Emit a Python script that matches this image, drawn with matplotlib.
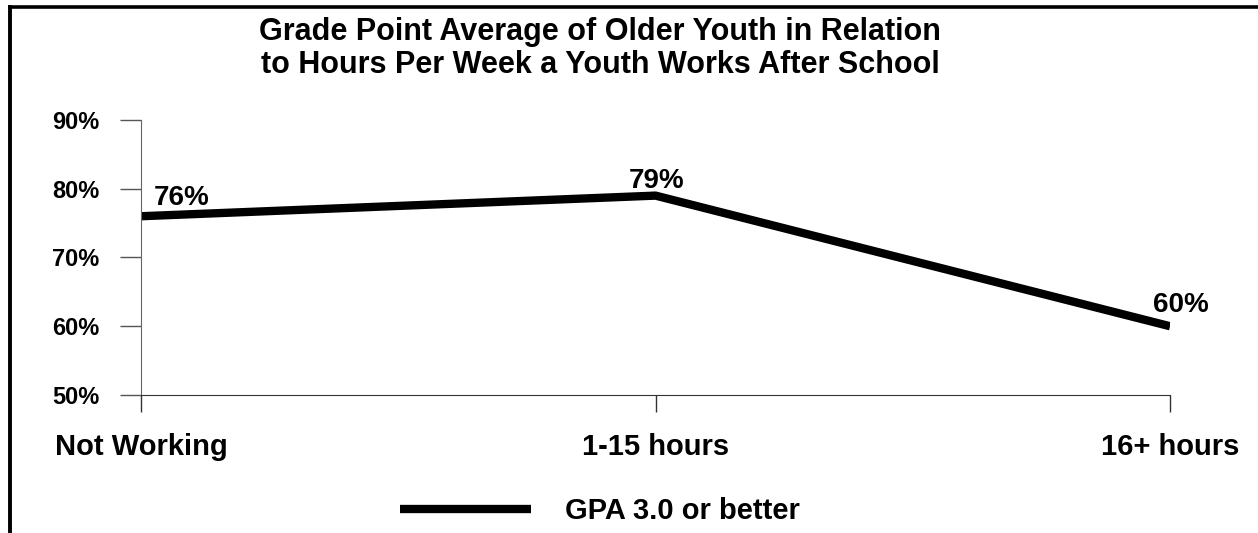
import numpy as np
import matplotlib
matplotlib.use("Agg")
import matplotlib.pyplot as plt
from matplotlib.lines import Line2D

categories = ['Not Working', '1-15 hours', '16+ hours']
gpa_values = [76, 79, 60]
point_labels = ['76%', '79%', '60%']
series_name = 'GPA 3.0 or better'
y_ticks = [50, 60, 70, 80, 90]

plt.rcParams['font.family'] = ['Liberation Sans', 'DejaVu Sans']

fig = plt.figure(figsize=(12.58, 5.33), dpi=100)
ax = fig.add_axes([0.1121, 0.2589, 0.8180, 0.5160])

x = np.arange(len(categories))
line, = ax.plot(x, gpa_values, color='black', linewidth=6, solid_capstyle='butt')

ax.set_xlim(0, len(categories) - 1)
ax.set_ylim(50, 90)
ax.set_xticks(x)
ax.set_xticklabels(categories, fontsize=21, fontweight='bold')
ax.set_yticks(y_ticks)
ax.set_yticklabels([f'{v}%' for v in y_ticks], fontsize=17, fontweight='bold')
ax.tick_params(axis='y', direction='out', length=15, width=1, color='#555555', pad=15)
ax.tick_params(axis='x', direction='out', length=12, width=1, color='#333333', pad=15)

for s in ['top', 'right']:
    ax.spines[s].set_visible(False)
ax.spines['left'].set_color('#666666')
ax.spines['bottom'].set_color('#333333')

# (dx, dy) in points from each data point to the label's baseline centre
offsets = [(29, 8), (1, 5.5), (8, 10)]
for xi, yi, lab, (dx, dy) in zip(x, gpa_values, point_labels, offsets):
    ax.annotate(lab, (xi, yi), xytext=(dx, dy), textcoords='offset points',
                ha='center', va='baseline', fontsize=20, fontweight='bold')

fig.text(0.477, 0.968, 'Grade Point Average of Older Youth in Relation\nto Hours Per Week a Youth Works After School',
         ha='center', va='top', fontsize=22, fontweight='bold', linespacing=1.12)

fig.legend([line], [series_name], loc='center left', bbox_to_anchor=(0.318, 0.041),
           frameon=False, handlelength=4.5, handletextpad=1.15, borderpad=0,
           borderaxespad=0, prop={'weight': 'bold', 'size': 21})

# page frame (top and left edges)
fig.add_artist(Line2D([0.00795, 0.00795], [0.0, 0.9878], transform=fig.transFigure,
                      color='black', linewidth=2.8, solid_capstyle='projecting'))
fig.add_artist(Line2D([0.00795, 1.0], [0.9878, 0.9878], transform=fig.transFigure,
                      color='black', linewidth=2.6, solid_capstyle='projecting'))

fig.savefig('out.png', dpi=100)
